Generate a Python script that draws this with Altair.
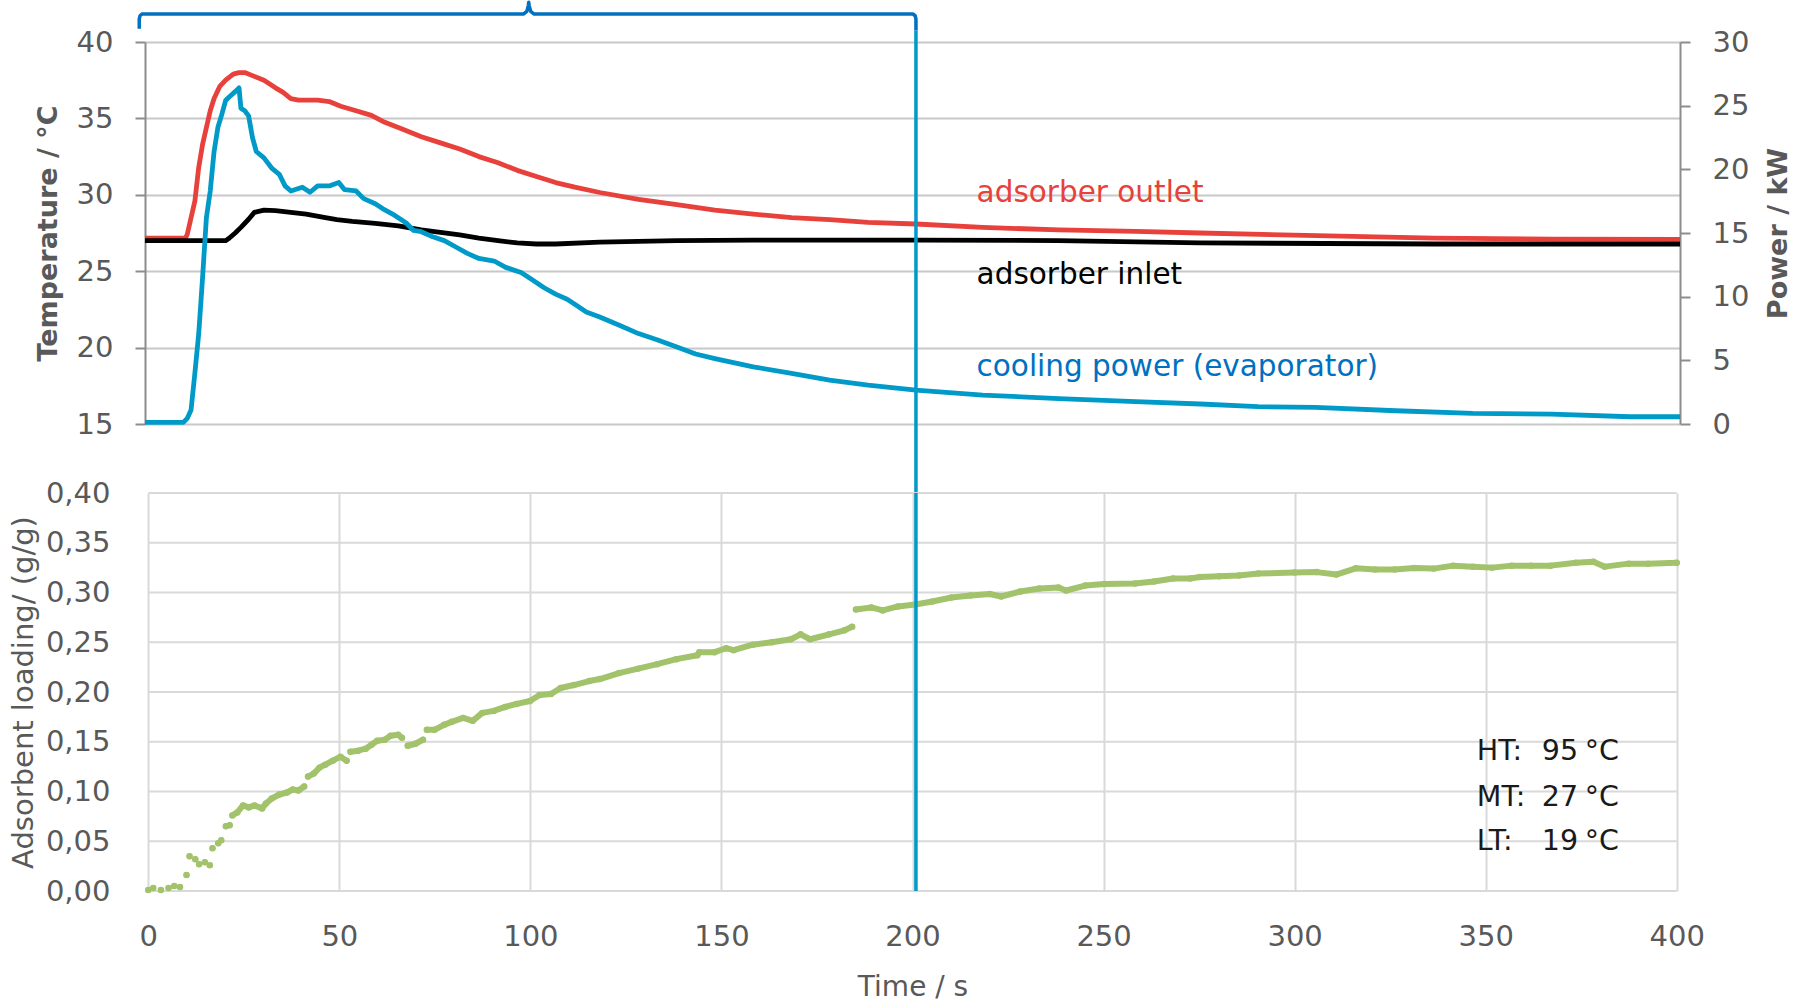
import altair as alt
import pandas as pd

# ---------------- data ----------------
time_outlet = [0, 5, 10, 10.6, 11, 12, 13, 14, 15, 16, 17, 18, 19.5, 21, 23, 24.5, 26, 28, 31, 34, 36, 38,
               40, 45, 48, 51, 55, 59, 62, 67, 72, 77, 82, 87, 92, 97, 102, 107, 112, 118.5, 128.6, 138.6,
               148.5, 158.5, 168.5, 178.4, 188.4, 200.9, 218.3, 238.2, 258.2, 275, 305.4, 336, 366.5, 400]
temp_outlet = [27.17, 27.17, 27.17, 27.2, 27.4, 28.5, 29.6, 31.8, 33.3, 34.4, 35.5, 36.3, 37.1, 37.5, 37.9,
               38.0, 38.0, 37.8, 37.5, 37.0, 36.7, 36.3, 36.2, 36.2, 36.1, 35.8, 35.5, 35.2, 34.8, 34.3, 33.8,
               33.4, 33.0, 32.5, 32.1, 31.6, 31.2, 30.8, 30.5, 30.15, 29.7, 29.35, 29.0, 28.74, 28.5, 28.37,
               28.2, 28.09, 27.87, 27.7, 27.6, 27.5, 27.33, 27.17, 27.1, 27.08]

time_inlet = [0, 21, 22, 23.5, 25, 27, 28.5, 31, 34, 38, 42, 47, 50, 54, 60, 66, 72, 77, 82, 87, 92, 97,
              102, 107, 118.5, 138.6, 158.5, 201, 238, 275, 336, 400]
temp_inlet = [27.0, 27.0, 27.17, 27.5, 27.87, 28.4, 28.85, 29.0, 28.96, 28.85, 28.74, 28.5, 28.37, 28.26,
              28.13, 27.96, 27.7, 27.54, 27.37, 27.17, 27.0, 26.85, 26.78, 26.78, 26.9, 27.0, 27.04, 27.04,
              27.0, 26.85, 26.78, 26.78]

time_power = [0, 10, 11, 12, 13, 14, 15, 16, 17, 18, 19, 20, 21, 22, 23.5, 24.5, 25, 26, 27, 28, 29, 31, 33,
              35, 36.5, 38, 41, 43, 45, 48, 50.5, 52, 55, 57, 60, 62, 65, 68, 70, 72, 75, 78, 81, 84, 87, 91,
              94, 98, 101, 104, 107, 110, 112, 115, 118.5, 123.6, 128.6, 133.6, 138.6, 143.5, 148.5, 158.5,
              168.5, 178.4, 188.4, 200.9, 218.3, 238.2, 258.2, 275, 290, 305, 326, 346, 366.5, 387, 400]
power_kw = [0.13, 0.13, 0.44, 1.1, 4.0, 7.1, 11.5, 16.2, 18.3, 21.4, 23.3, 24.3, 25.4, 25.7, 26.1, 26.4, 24.8,
            24.6, 24.2, 22.5, 21.4, 20.9, 20.1, 19.6, 18.7, 18.3, 18.6, 18.2, 18.7, 18.7, 18.97, 18.4, 18.3,
            17.7, 17.3, 16.9, 16.4, 15.8, 15.2, 15.1, 14.7, 14.4, 13.9, 13.4, 13.0, 12.8, 12.3, 11.9, 11.3,
            10.7, 10.2, 9.8, 9.4, 8.8, 8.4, 7.75, 7.1, 6.6, 6.05, 5.5, 5.14, 4.49, 3.97, 3.44, 3.05, 2.66,
            2.27, 2.0, 1.75, 1.57, 1.36, 1.3, 1.04, 0.83, 0.78, 0.57, 0.57]

# adsorbent loading: early isolated dots, then continuous stretches
load_dots_t = [0, 1.3, 3.3, 5.3, 6.8, 8.3, 10.0, 10.8, 12.3, 13.3, 14.8, 16.1, 16.8, 18.3, 19.1, 20.3, 21.3]
load_dots_v = [0.001, 0.003, 0.001, 0.003, 0.005, 0.004, 0.016, 0.035, 0.032, 0.027, 0.029, 0.026, 0.043,
               0.048, 0.051, 0.065, 0.066]
load_a_t = [22.0, 23.3, 24.8, 26.3, 27.8, 29.8, 30.8, 32.3, 34.3, 36.3, 37.8, 39.3, 40.8]
load_a_v = [0.076, 0.079, 0.086, 0.084, 0.086, 0.083, 0.088, 0.093, 0.097, 0.099, 0.102, 0.101, 0.105]
load_b_t = [41.8, 43.3, 44.8, 46.3, 48.3, 50.3, 51.9]
load_b_v = [0.115, 0.118, 0.124, 0.127, 0.131, 0.135, 0.131]
load_c_t = [52.9, 54.9, 56.9, 58.4, 59.9, 61.9, 63.4, 65.4, 66.4]
load_c_v = [0.140, 0.141, 0.143, 0.147, 0.151, 0.152, 0.156, 0.157, 0.154]
load_d_t = [67.9, 69.9, 71.9]
load_d_v = [0.146, 0.148, 0.152]
load_e_t = [72.9, 74.9, 77.4, 79.4, 82.4, 84.9, 87.4, 90.4, 93.4, 96.4, 99.9, 102.4, 105.4, 107.9, 111.4,
            115.4, 118.2, 123.2, 128.2, 133.2, 138.2, 143.7, 144.2, 148.2, 151.2, 153.2, 158.2, 163.2, 168.2,
            170.7, 173.2, 178.2, 182.2, 184.2]
load_e_v = [0.162, 0.162, 0.167, 0.170, 0.174, 0.171, 0.179, 0.181, 0.185, 0.188, 0.191, 0.197, 0.198, 0.204,
            0.207, 0.211, 0.213, 0.219, 0.2235, 0.228, 0.233, 0.237, 0.240, 0.240, 0.244, 0.242, 0.2475, 0.250,
            0.253, 0.258, 0.253, 0.258, 0.262, 0.2655]
load_f_t = [185.2, 189.2, 192.2, 196.2, 200.7, 205.2, 210.2, 215.2, 220.2, 223.2, 228.2, 233.2, 238.2, 240.2,
            245.2, 250.2, 258.2, 263.2, 268.2, 272.7, 275.2, 280.3, 285.4, 290.5, 300.0, 305.8, 310.9, 316.0,
            321.1, 326.2, 331.3, 336.4, 341.5, 346.6, 351.7, 356.8, 361.9, 367.0, 373.6, 378.2, 381.2, 387.4,
            392.5, 400.0]
load_f_v = [0.283, 0.285, 0.282, 0.286, 0.288, 0.291, 0.295, 0.297, 0.2985, 0.296, 0.301, 0.304, 0.305, 0.302,
            0.307, 0.3085, 0.309, 0.311, 0.314, 0.314, 0.3156, 0.3163, 0.317, 0.319, 0.320, 0.3205, 0.318,
            0.3243, 0.323, 0.323, 0.3246, 0.324, 0.327, 0.326, 0.325, 0.327, 0.327, 0.327, 0.330, 0.331, 0.326,
            0.329, 0.329, 0.330]

temp_ticks = [15, 20, 25, 30, 35, 40]
power_ticks = [0, 5, 10, 15, 20, 25, 30]
time_ticks = [0, 50, 100, 150, 200, 250, 300, 350, 400]
load_ticks = [0.0, 0.05, 0.10, 0.15, 0.20, 0.25, 0.30, 0.35, 0.40]

series_names = ["adsorber outlet", "adsorber inlet", "cooling power (evaporator)"]
series_label_time = [216.7, 216.7, 216.7]
series_label_temp = [29.51, 24.19, 18.17]
series_label_colors = ["#e8403a", "#000000", "#0070c0"]

# bracket marking the first half cycle (drawn in temperature / time units above the panel)
cycle_time = [-1.5, -1.5, -1.3, -0.8, 98.6, 99.5, 99.9, 100.0, 100.1, 100.5, 101.4, 200.1, 200.7, 200.9, 200.9]
cycle_temp = [40.87, 41.5, 41.72, 41.83, 41.83, 42.0, 42.4, 42.6, 42.4, 42.0, 41.83, 41.83, 41.72, 41.5, 40.75]
switch_time = [200.9]
switch_temp_top = [40.75]
switch_temp_bottom = [10.47]

cond_names = ["HT:", "MT:", "LT:"]
cond_values = ["95", "27", "19"]
cond_loading = [0.1317, 0.0859, 0.0413]

# ---------------- styling ----------------
FONT = "DejaVu Sans"
GREY_TXT = "#595959"
AXIS_GREY = "#8c8c8c"
W = 1535
H_TOP = 382
H_BOT = 398
RED, BLACK, CYAN, BLUE_DARK, GREEN = "#e8403a", "#000000", "#009ac9", "#0070c0", "#a2c36b"

# ---------------- top panel ----------------
temp_df = pd.concat([
    pd.DataFrame({"t": time_outlet, "T": temp_outlet, "series": "adsorber outlet"}),
    pd.DataFrame({"t": time_inlet, "T": temp_inlet, "series": "adsorber inlet"}),
])
power_df = pd.DataFrame({"t": time_power, "P": power_kw})
label_df = pd.DataFrame({"t": series_label_time, "T": series_label_temp, "name": series_names})
cycle_df = pd.DataFrame({"t": cycle_time, "T": cycle_temp, "i": list(range(len(cycle_time)))})
switch_top_df = pd.DataFrame({"t": switch_time, "T": switch_temp_top, "T2": switch_temp_bottom})

x_top = alt.X("t:Q", scale=alt.Scale(domain=[0, 400], nice=False, zero=False), axis=None)
temp_scale = alt.Scale(domain=[15, 40], nice=False, zero=False)

temp_lines = alt.Chart(temp_df).mark_line(strokeWidth=4.8, strokeJoin="round").encode(
    x=x_top,
    y=alt.Y("T:Q", scale=temp_scale, axis=alt.Axis(
        orient="left", values=temp_ticks, title="Temperature / °C", grid=True,
        gridColor="#c8c8c8", gridWidth=2, domainColor=AXIS_GREY, domainWidth=2,
        tickColor=AXIS_GREY, tickWidth=2, tickSize=10,
        labelFont=FONT, labelFontSize=29, labelColor=GREY_TXT, labelPadding=22,
        titleFont=FONT, titleFontSize=27, titleFontWeight="bold", titleColor=GREY_TXT,
        titleAngle=270, titleX=-89, titleBaseline="alphabetic")),
    color=alt.Color("series:N", scale=alt.Scale(domain=["adsorber outlet", "adsorber inlet"],
                                                range=[RED, BLACK]), legend=None),
    detail="series:N",
)

power_line = alt.Chart(power_df).mark_line(strokeWidth=4.8, color=CYAN, strokeJoin="round").encode(
    x=x_top,
    y=alt.Y("P:Q", scale=alt.Scale(domain=[0, 30], nice=False, zero=False), axis=alt.Axis(
        orient="right", values=power_ticks, title="Power / kW", grid=False,
        domainColor=AXIS_GREY, domainWidth=2, tickColor=AXIS_GREY, tickWidth=2, tickSize=10,
        labelFont=FONT, labelFontSize=29, labelColor=GREY_TXT, labelPadding=22,
        titleFont=FONT, titleFontSize=27, titleFontWeight="bold", titleColor=GREY_TXT,
        titleAngle=270, titleX=106, titleBaseline="alphabetic")),
)

switch_top = alt.Chart(switch_top_df).mark_rule(color=CYAN, strokeWidth=3.5, clip=False).encode(
    x=x_top, y=alt.Y("T:Q", scale=temp_scale, axis=None), y2="T2:Q")

cycle_bracket = alt.Chart(cycle_df).mark_line(color=BLUE_DARK, strokeWidth=3.5, clip=False,
                                              strokeJoin="round").encode(
    x=x_top, y=alt.Y("T:Q", scale=temp_scale, axis=None), order="i:Q")

series_labels = alt.Chart(label_df).mark_text(align="left", baseline="alphabetic", font=FONT,
                                              fontSize=29.5).encode(
    x=x_top, y=alt.Y("T:Q", scale=temp_scale, axis=None), text="name:N",
    color=alt.Color("name:N", scale=alt.Scale(domain=series_names, range=series_label_colors), legend=None))

top = alt.layer(temp_lines, power_line, switch_top, cycle_bracket, series_labels).resolve_scale(
    y="independent", color="independent").properties(width=W, height=H_TOP)

# ---------------- bottom panel ----------------
seg_frames = [pd.DataFrame({"t": [tt], "L": [vv], "seg": f"dot{i}"}) for i, (tt, vv) in
              enumerate(zip(load_dots_t, load_dots_v))]
for name, ts, vs in [("a", load_a_t, load_a_v), ("b", load_b_t, load_b_v), ("c", load_c_t, load_c_v),
                     ("d", load_d_t, load_d_v), ("e", load_e_t, load_e_v), ("f", load_f_t, load_f_v)]:
    seg_frames.append(pd.DataFrame({"t": ts, "L": vs, "seg": name}))
load_df = pd.concat(seg_frames, ignore_index=True)

bot_x_scale = alt.Scale(domain=[-0.86, 400.86], nice=False, zero=False)
bot_x_axis = alt.Axis(
    values=time_ticks, title="Time / s", grid=True, gridColor="#d9d9d9", gridWidth=2,
    ticks=False, domain=False, labelFont=FONT, labelFontSize=29, labelColor=GREY_TXT, labelPadding=31,
    titleFont=FONT, titleFontSize=28, titleFontWeight="normal", titleColor=GREY_TXT,
    titleY=104, titleBaseline="alphabetic")


def xb(field):
    return alt.X(field, scale=bot_x_scale, axis=bot_x_axis)


y_bot = alt.Y("L:Q", scale=alt.Scale(domain=[0, 0.4], nice=False, zero=False), axis=alt.Axis(
    values=load_ticks, format=".2f", labelExpr="replace(datum.label, '.', ',')",
    title="Adsorbent loading/ (g/g)", grid=False, ticks=False, domain=False,
    labelFont=FONT, labelFontSize=29, labelColor=GREY_TXT, labelPadding=35,
    titleFont=FONT, titleFontSize=29, titleFontWeight="normal", titleColor=GREY_TXT,
    titleAngle=270, titleX=-113, titleBaseline="alphabetic"))

hgrid_df = pd.DataFrame({"t": [0] * len(load_ticks), "t2": [400] * len(load_ticks), "L": load_ticks})
hgrid = alt.Chart(hgrid_df).mark_rule(color="#d9d9d9", strokeWidth=2).encode(x=xb("t:Q"), x2="t2:Q", y=y_bot)

load_line = alt.Chart(load_df).mark_line(color=GREEN, strokeWidth=6, strokeCap="round",
                                         strokeJoin="round").encode(x=xb("t:Q"), y=y_bot, detail="seg:N")
load_pts = alt.Chart(load_df).mark_circle(color=GREEN, size=42, opacity=1).encode(x=xb("t:Q"), y=y_bot)

switch_bot_df = pd.DataFrame({"t": switch_time, "L": [0.4], "L2": [0.0]})
switch_bot = alt.Chart(switch_bot_df).mark_rule(color=CYAN, strokeWidth=3.5).encode(
    x=xb("t:Q"), y=y_bot, y2="L2:Q")

cond_df = pd.DataFrame({"t": [347.7] * 3, "tv": [374.2] * 3, "tu": [375.9] * 3, "L": cond_loading,
                        "name": cond_names, "value": cond_values, "unit": ["°C"] * 3})
cond_name = alt.Chart(cond_df).mark_text(align="left", baseline="alphabetic", font=FONT, fontSize=28.5,
                                         color="#1a1a1a").encode(x=xb("t:Q"), y=y_bot, text="name:N")
cond_val = alt.Chart(cond_df).mark_text(align="right", baseline="alphabetic", font=FONT, fontSize=28.5,
                                        color="#1a1a1a").encode(x=xb("tv:Q"), y=y_bot, text="value:N")
cond_unit = alt.Chart(cond_df).mark_text(align="left", baseline="alphabetic", font=FONT, fontSize=28.5,
                                         color="#1a1a1a").encode(x=xb("tu:Q"), y=y_bot, text="unit:N")

bottom = alt.layer(hgrid, load_line, load_pts, switch_bot, cond_name, cond_val, cond_unit).properties(
    width=W, height=H_BOT)

chart = alt.vconcat(top, bottom, spacing=69, bounds="flush").resolve_scale(
    x="independent", y="independent", color="independent"
).properties(
    padding={"left": 9, "top": 0, "right": 5, "bottom": 5},
    background="white",
).configure_view(strokeWidth=0)

chart.save("out.html", embed_options={"renderer": "svg", "actions": False})
